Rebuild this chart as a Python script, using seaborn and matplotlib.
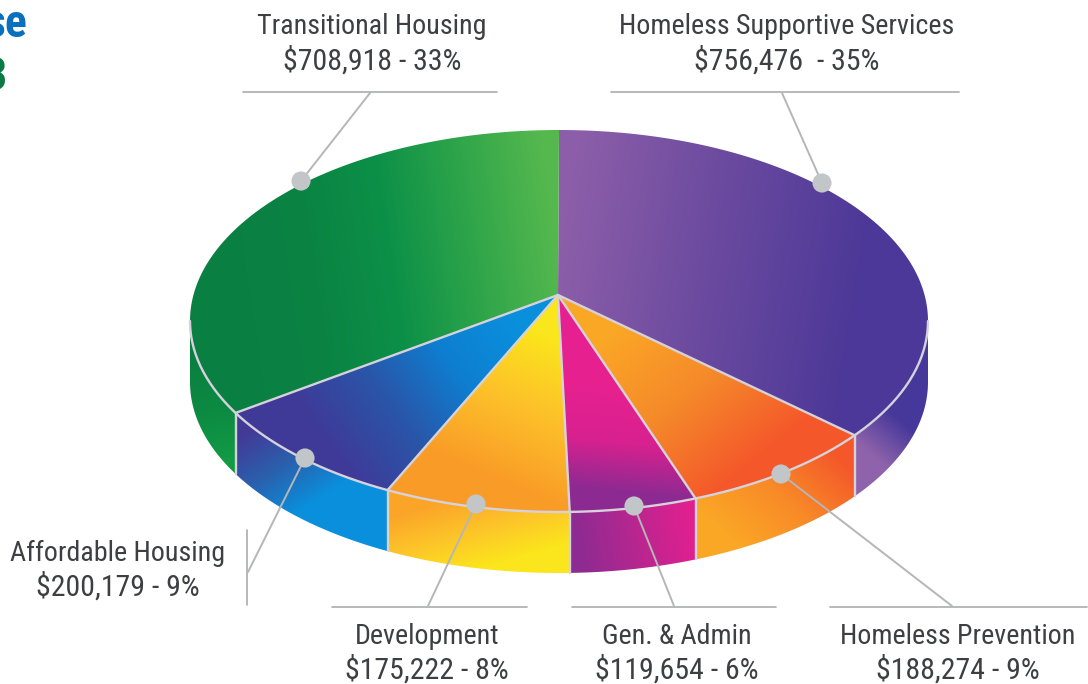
import numpy as np
import matplotlib
matplotlib.use("Agg")
import matplotlib.pyplot as plt
from matplotlib.patches import Polygon
from matplotlib import font_manager
import seaborn as sns

# data
categories = ["Homeless Supportive Services", "Homeless Prevention", "Gen. & Admin",
              "Development", "Affordable Housing", "Transitional Housing"]
amounts = [756476, 188274, 119654, 175222, 200179, 708918]
amount_labels = ["$756,476  - 35%", "$188,274 - 9%", "$119,654 - 6%",
                 "$175,222 - 8%", "$200,179 - 9%", "$708,918 - 33%"]

# colours: top face and side wall of every slice
top_colors = [["#8c5ea9", "#6a4a9f", "#4c3898"],
              ["#fba726", "#f58a2a", "#f4572a"],
              ["#e6208f", "#d8218f", "#8c2a92"],
              ["#fbe61c", "#fdc02a", "#f99c27"],
              ["#0a8fdc", "#0e7ed0", "#2a55a8", "#3f3a98"],
              ["#55b84e", "#2fa54a", "#0c9048", "#0a8342", "#0a7f42"]]
side_colors = [["#46379a", "#6a4ea3", "#8f63ab"],
               ["#f4572a", "#f88a28", "#fba726"],
               ["#8e2b92", "#b82690", "#e0208f"],
               ["#fba528", "#fdc52a", "#fbe51c"],
               ["#433a96", "#2a60ad", "#0a8fdc"],
               ["#0a8040", "#0c8a42", "#129a45"]]
# gradient direction in picture pixels
top_grad = [((560, 250), (860, 300)), ((625, 320), (745, 470)), ((610, 390), (600, 490)),
            ((560, 340), (500, 480)), ((510, 320), (330, 450)), ((558, 250), (230, 300))]
side_grad = [((900, 420), (870, 455)), ((830, 450), (740, 550)), ((580, 550), (690, 530)),
             ((450, 500), (470, 570)), ((250, 430), (300, 510)), ((200, 360), (215, 460))]

# callouts: dot, leader end, rule, text
dots = [(822, 183), (781, 474), (634, 506), (476, 504), (305, 458), (301, 181)]
leaders = [(782, 93), (952, 606), (674, 606), (428, 606), (248, 572), (370, 93)]
rules = [((611, 92), (959, 92)), ((830, 607), (1087, 607)), ((572, 607), (776, 607)),
         ((332, 607), (527, 607)), ((247, 530), (247, 605)), ((243, 92), (497, 92))]
text_pos = [(787, 27), (958, 636), (677, 636), (427, 636), (118, 553), (372, 27)]

CX, CY, RX, RY, DEPTH = 559, 321, 369, 191, 61
APEX = (558, 295)
RIM = "#d6d2dc"
LEAD = "#b4b6b9"

sns.set_theme(style="white")
installed = {f.name for f in font_manager.fontManager.ttflist}
narrow = "Roboto Condensed" if "Roboto Condensed" in installed else "Roboto"
plt.rcParams["font.family"] = [narrow, "DejaVu Sans"]


def rim(deg, drop=0):
    # deg runs clockwise from the top of the ellipse
    t = np.radians(deg)
    return np.column_stack([CX + RX * np.sin(t), CY - RY * np.cos(t) + drop])


def fill(ax, pts, grad, colors, z):
    # linear gradient clipped to a polygon
    cmap = sns.blend_palette(colors, as_cmap=True)
    x0, y0 = pts.min(axis=0) - 2
    x1, y1 = pts.max(axis=0) + 2
    xx, yy = np.meshgrid(np.arange(x0, x1), np.arange(y0, y1))
    (ax_, ay_), (bx_, by_) = grad
    dx, dy = bx_ - ax_, by_ - ay_
    v = np.clip(((xx - ax_) * dx + (yy - ay_) * dy) / (dx * dx + dy * dy), 0, 1)
    im = ax.imshow(v, cmap=cmap, vmin=0, vmax=1, extent=(x0, x1, y1, y0),
                   origin="upper", aspect="auto", zorder=z, interpolation="bilinear")
    patch = Polygon(pts, closed=True, transform=ax.transData, fc="none", ec="none")
    ax.add_patch(patch)
    im.set_clip_path(patch)


fig, ax = plt.subplots(figsize=(10.88, 6.84), dpi=100)
fig.subplots_adjust(0, 0, 1, 1)

edges = np.cumsum([0] + amounts) / sum(amounts) * 360

for i in range(len(amounts)):
    a = np.linspace(edges[i], edges[i + 1], 120)
    top = np.vstack([APEX, rim(a)])
    fill(ax, top, top_grad[i], top_colors[i], 2)
    # side wall only on the part facing the viewer
    lo, hi = max(edges[i], 90), min(edges[i + 1], 270)
    if hi > lo:
        b = np.linspace(lo, hi, 80)
        wall = np.vstack([rim(b), rim(b[::-1], DEPTH)])
        fill(ax, wall, side_grad[i], side_colors[i], 1)

# rim and slice borders
front = rim(np.linspace(90, 270, 200))
ax.plot(front[:, 0], front[:, 1], color=RIM, lw=1.7, zorder=3)
for e in edges[1:-1]:
    p = rim(e)[0]
    ax.plot([APEX[0], p[0]], [APEX[1], p[1]], color=RIM, lw=1.7, zorder=3)
    q = rim(e, DEPTH)[0]
    ax.plot([p[0], q[0]], [p[1], q[1]], color=RIM, lw=1.7, zorder=3)

# callouts
for i, name in enumerate(categories):
    (rx0, ry0), (rx1, ry1) = rules[i]
    ax.plot([rx0, rx1], [ry0, ry1], color="#a9abae", lw=1.2, zorder=4)
    ax.plot([dots[i][0], leaders[i][0]], [dots[i][1], leaders[i][1]], color=LEAD, lw=1.4, zorder=4)
    ax.text(text_pos[i][0], text_pos[i][1], name, ha="center", va="center",
            fontsize=20.2, color="#3d3f42", zorder=6)
    ax.text(text_pos[i][0], text_pos[i][1] + 34, amount_labels[i], ha="center", va="center",
            fontsize=21.5, color="#3d3f42", zorder=6)

sns.scatterplot(x=[d[0] for d in dots], y=[d[1] for d in dots], s=190, color="#c3c6c9",
                edgecolor="none", ax=ax, zorder=5, legend=False)

# title text cut off by the crop of the original
ax.text(27, 24, "se", ha="right", va="center", fontsize=33, fontweight="bold", color="#0a6fbd")
ax.text(7, 77, "3", ha="right", va="center", fontsize=33, fontweight="bold", color="#0c7a45")

ax.set_xlim(0, 1088)
ax.set_ylim(684, 0)
ax.axis("off")
fig.savefig("out.png", dpi=100, facecolor="white")
